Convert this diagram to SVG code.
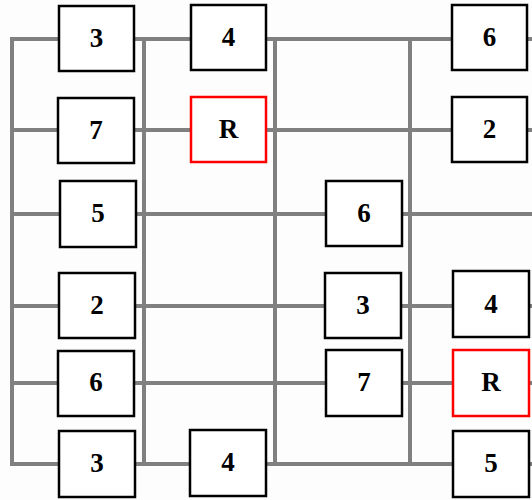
<svg xmlns="http://www.w3.org/2000/svg" width="532" height="500" viewBox="0 0 532 500">
<style>
.ln{stroke:#808080;stroke-width:4;fill:none}
.bx{fill:#fff;stroke:#000;stroke-width:2.5}
.rb{fill:#fff;stroke:#ff0000;stroke-width:2.5}
.t{font-family:"Liberation Serif","DejaVu Serif",serif;font-weight:bold;font-size:27px;text-anchor:middle;fill:#000}
</style>
<rect width="532" height="500" fill="#fdfdfd"/>
<g id="connectors">
<path class="ln" d="M10 39H532M10 130H532M10 214H532M10 306H532M10 383H532M10 464H532"/>
<path class="ln" d="M12 39V464M144 39V464M275 39V464M410 39V464"/>
</g>
<g id="n1"><rect class="bx" x="59" y="6" width="75" height="65"/><text class="t" x="96.5" y="47">3</text></g>
<g id="n2"><rect class="bx" x="191" y="5" width="75" height="65"/><text class="t" x="228.5" y="46">4</text></g>
<g id="n3"><rect class="bx" x="452" y="5" width="75" height="65"/><text class="t" x="489.5" y="46">6</text></g>
<g id="n4"><rect class="bx" x="58" y="98" width="76" height="65"/><text class="t" x="96" y="139">7</text></g>
<g id="n5"><rect class="rb" x="191" y="97" width="75" height="65"/><text class="t" x="228.5" y="138">R</text></g>
<g id="n6"><rect class="bx" x="452" y="97" width="75" height="65"/><text class="t" x="489.5" y="138">2</text></g>
<g id="n7"><rect class="bx" x="60" y="181" width="76" height="66"/><text class="t" x="98" y="222">5</text></g>
<g id="n8"><rect class="bx" x="326" y="181" width="76" height="65"/><text class="t" x="364" y="222">6</text></g>
<g id="n9"><rect class="bx" x="59" y="273" width="76" height="65"/><text class="t" x="97" y="314">2</text></g>
<g id="n10"><rect class="bx" x="325" y="273" width="76" height="65"/><text class="t" x="363" y="314">3</text></g>
<g id="n11"><rect class="bx" x="453" y="271" width="76" height="66"/><text class="t" x="491" y="313">4</text></g>
<g id="n12"><rect class="bx" x="58" y="351" width="76" height="65"/><text class="t" x="96" y="391">6</text></g>
<g id="n13"><rect class="bx" x="326" y="350" width="76" height="66"/><text class="t" x="364" y="391">7</text></g>
<g id="n14"><rect class="rb" x="453" y="350" width="76" height="66"/><text class="t" x="491" y="391">R</text></g>
<g id="n15"><rect class="bx" x="59" y="431" width="76" height="66"/><text class="t" x="97" y="472">3</text></g>
<g id="n16"><rect class="bx" x="190" y="430" width="76" height="66"/><text class="t" x="228" y="471">4</text></g>
<g id="n17"><rect class="bx" x="453" y="431" width="76" height="66"/><text class="t" x="491" y="472">5</text></g>
</svg>
